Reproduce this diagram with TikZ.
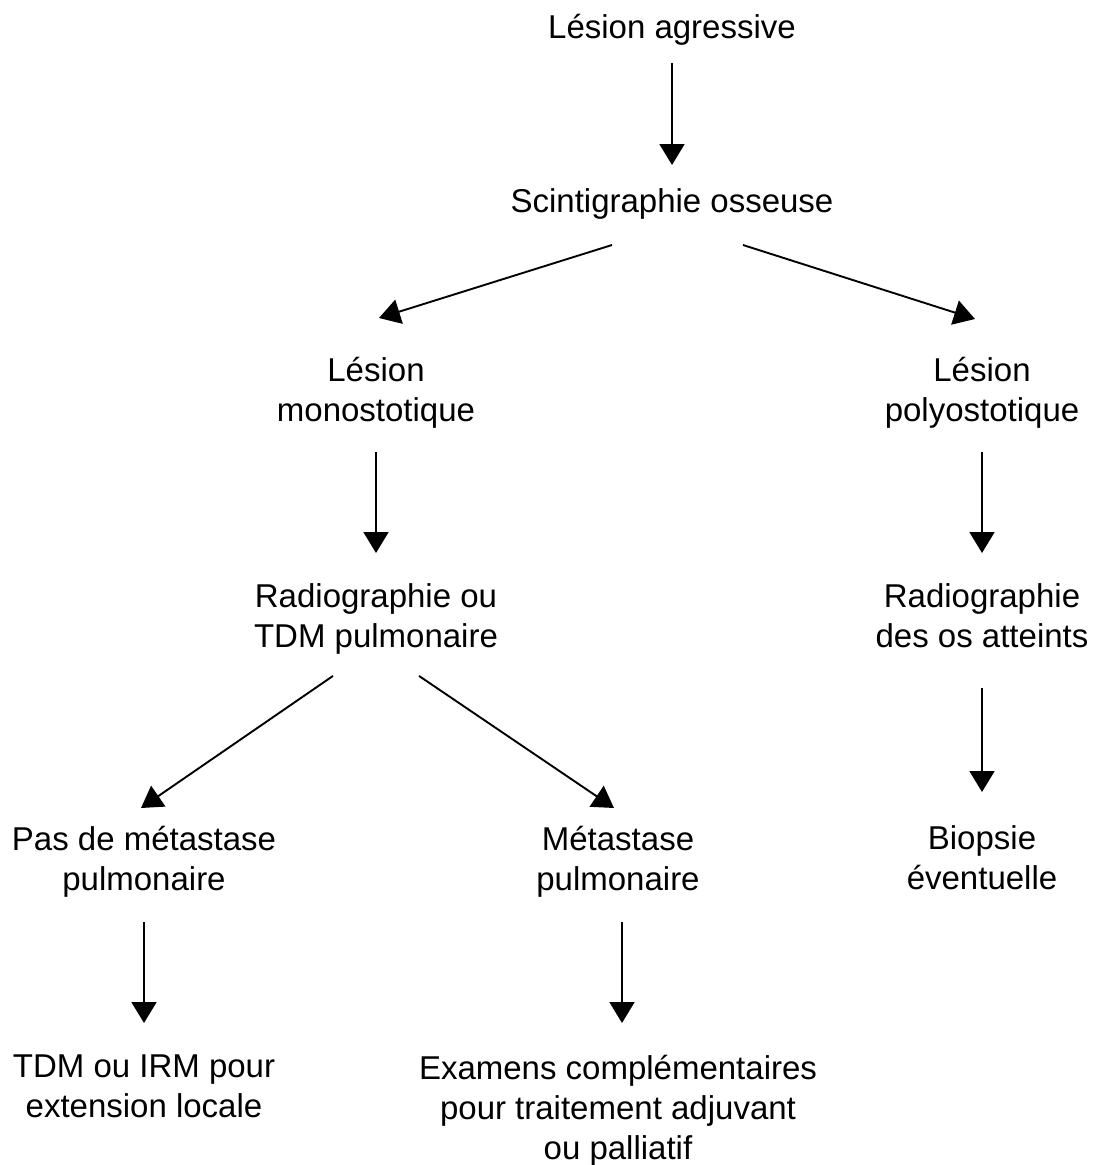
\documentclass[tikz,border=0pt]{standalone}
\usepackage{fontspec}
\setmainfont{Liberation Sans}
\usetikzlibrary{arrows.meta,calc}
\begin{document}
\begin{tikzpicture}[x=1pt,y=-1pt,
  lbl/.style={anchor=north,inner sep=0pt,outer sep=0pt,align=center,
    font=\fontsize{33}{40}\selectfont,
    execute at begin node=\strut,execute at end node=\strut},
  arr/.style={line width=1.9pt,-{Triangle[length=21pt,width=25pt]}}]
\useasboundingbox (0,0) rectangle (1098,1165);
\node[lbl] (agr)   at (672,10)    {Lésion agressive};
\node[lbl] (scint) at (672,184)   {Scintigraphie osseuse};
\node[lbl] (mono)  at (376,357)   {Lésion\\monostotique};
\node[lbl] (poly)  at (982,357)   {Lésion\\polyostotique};
\node[lbl] (radL)  at (376,584)   {Radiographie ou\\TDM pulmonaire};
\node[lbl] (radR)  at (982,584)   {Radiographie\\des os atteints};
\node[lbl] (pas)   at (144,826)   {Pas de métastase\\pulmonaire};
\node[lbl] (meta)  at (618,826)   {Métastase\\pulmonaire};
\node[lbl] (bio)   at (982,826)   {Biopsie\\éventuelle};
\node[lbl] (tdm)   at (144,1055)  {TDM ou IRM pour\\extension locale};
\node[lbl] (exam)  at (618,1055)  {Examens complémentaires\\pour traitement adjuvant\\ou palliatif};
\draw[arr] ($(agr.south)+(0,13)$) -- ($(scint.north)+(0,-19)$);
\draw[arr] ($(scint.south)+(-60,21)$) -- ($(mono.north)+(3,-39)$);
\draw[arr] ($(scint.south)+(71,21)$) -- ($(poly.north)+(-7,-38)$);
\draw[arr] ($(mono.south)+(0,19)$) -- ($(radL.north)+(0,-31)$);
\draw[arr] ($(poly.south)+(0,19)$) -- ($(radR.north)+(0,-31)$);
\draw[arr] ($(radL.south)+(-43,16)$) -- ($(pas.north)+(-3,-18)$);
\draw[arr] ($(radL.south)+(43,16)$) -- ($(meta.north)+(-4,-18)$);
\draw[arr] ($(radR.south)+(0,28)$) -- ($(bio.north)+(0,-34)$);
\draw[arr] ($(pas.south)+(0,20)$) -- ($(tdm.north)+(0,-32)$);
\draw[arr] ($(meta.south)+(4,20)$) -- ($(exam.north)+(4,-32)$);
\end{tikzpicture}
\end{document}
